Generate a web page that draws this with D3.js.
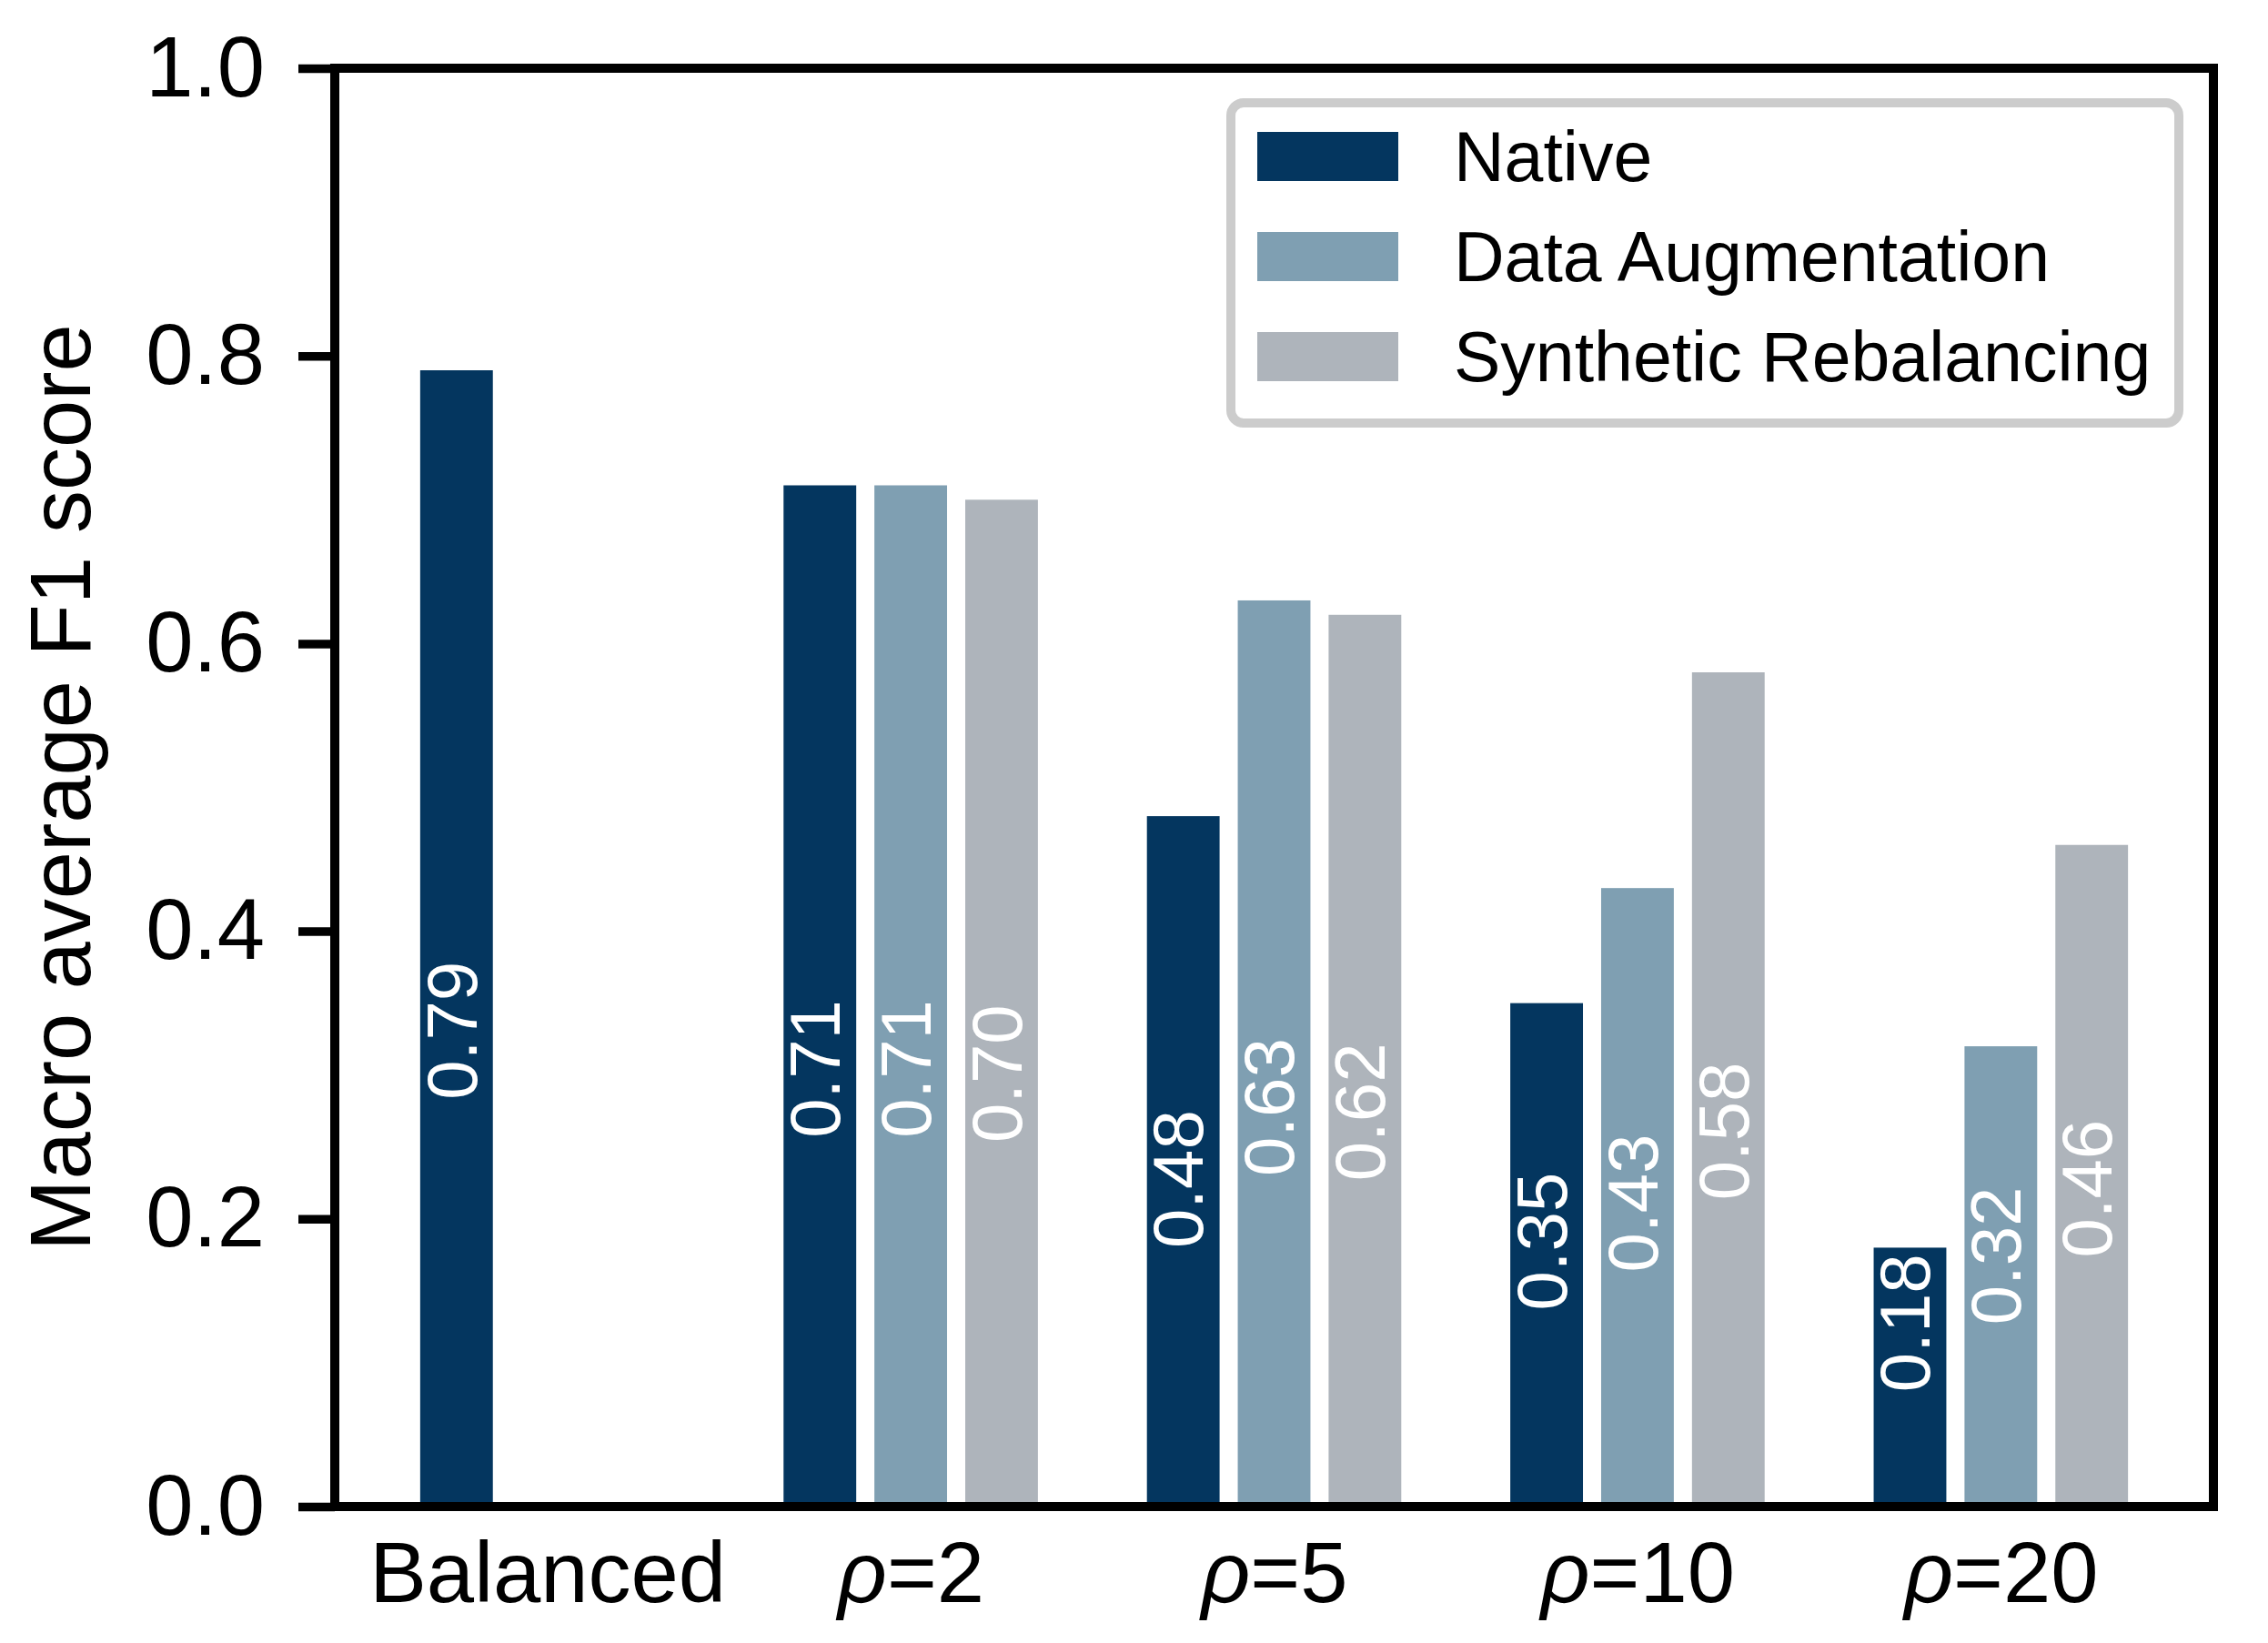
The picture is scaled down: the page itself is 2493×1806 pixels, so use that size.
<!DOCTYPE html>
<html>
<head>
<meta charset="utf-8">
<script src="https://cdn.jsdelivr.net/npm/d3@7"></script>
<style>
  body { margin: 0; background: #ffffff; }
  svg { display: block; font-family: "Liberation Sans", Arial, sans-serif; }
</style>
</head>
<body>
<svg id="chart"></svg>
<script>
// data
const categories = ["Balanced", "ρ=2", "ρ=5", "ρ=10", "ρ=20"];
const native = [0.79, 0.71, 0.48, 0.35, 0.18];
const augmentation = [null, 0.71, 0.63, 0.43, 0.32];
const synthetic = [null, 0.70, 0.62, 0.58, 0.46];
const seriesNames = ["Native", "Data Augmentation", "Synthetic Rebalancing"];
const yTicks = [0, 0.2, 0.4, 0.6, 0.8, 1.0];

const colors = ["#04365f", "#7f9fb2", "#aeb4bb"];

const W = 2493, H = 1806;
const margin = { top: 75, left: 368, right: W - 2433, bottom: H - 1656 };
const width = W - margin.left - margin.right;
const height = H - margin.top - margin.bottom;

const svg = d3.select("#chart").attr("width", W).attr("height", H);
const chart = svg.append("g").attr("transform", `translate(${margin.left},${margin.top})`);

// group positions 0..n-1, matplotlib-like margins
const xScale = d3.scaleLinear().domain([-0.585, categories.length - 1 + 0.585]).range([0, width]);
const yScale = d3.scaleLinear().domain([0, 1]).range([height, 0]);

const barStep = 0.25, barW = 0.2;
const series = [native, augmentation, synthetic];

series.forEach((vals, s) => {
  const off = (s - 1) * barStep;
  const pts = vals.map((v, i) => ({ i, v })).filter(d => d.v != null);

  chart.selectAll(`rect.s${s}`).data(pts).enter().append("rect")
      .attr("class", `s${s}`)
      .attr("x", d => xScale(d.i + off - barW / 2))
      .attr("width", xScale(barW) - xScale(0))
      .attr("y", d => yScale(d.v))
      .attr("height", d => yScale(0) - yScale(d.v))
      .attr("fill", colors[s]);

  // rotated value labels sitting at a third of the bar
  chart.selectAll(`text.lbl${s}`).data(pts).enter().append("text")
      .attr("class", `lbl${s}`)
      .attr("transform", d => `translate(${xScale(d.i + off)},${yScale(d.v / 3)}) rotate(-90)`)
      .attr("x", 31)
      .attr("dy", "0.28em")
      .attr("fill", "#ffffff")
      .style("font-size", "78px")
      .text(d => d.v.toFixed(2));
});

// y axis
const yAxis = d3.axisLeft(yScale).tickValues(yTicks).tickFormat(d3.format(".1f"))
    .tickSize(40).tickPadding(37);
const yAxisG = chart.append("g").call(yAxis);
yAxisG.select(".domain").remove();
yAxisG.selectAll("line").attr("stroke", "#000").attr("stroke-width", 9.5);
yAxisG.selectAll("text").attr("fill", "#000").style("font-size", "94px")
    .style("font-family", "'Liberation Sans', Arial, sans-serif");

// x axis, no tick marks
const xAxis = d3.axisBottom(xScale).tickValues(d3.range(categories.length))
    .tickFormat(i => categories[i]).tickSize(0).tickPadding(38);
const xAxisG = chart.append("g").attr("transform", `translate(0,${height})`).call(xAxis);
xAxisG.select(".domain").remove();
xAxisG.selectAll("text").attr("fill", "#000").style("font-size", "94px")
    .style("font-family", "'Liberation Sans', Arial, sans-serif")
    .each(function(i) {
      const t = d3.select(this);
      const lab = categories[i];
      if (lab.startsWith("ρ")) {
        t.text(null);
        t.append("tspan").style("font-style", "italic").text("ρ");
        t.append("tspan").text(lab.slice(1));
      }
    });

// frame
chart.append("rect")
    .attr("x", 0).attr("y", 0).attr("width", width).attr("height", height)
    .attr("fill", "none").attr("stroke", "#000").attr("stroke-width", 10);

// y label
svg.append("text")
    .attr("transform", `translate(99,${margin.top + height / 2}) rotate(-90)`)
    .attr("text-anchor", "middle")
    .style("font-size", "94px")
    .text("Macro average F1 score");

// legend
const legend = svg.append("g");
legend.append("rect")
    .attr("x", 1353).attr("y", 113).attr("width", 1042).attr("height", 352)
    .attr("rx", 14).attr("fill", "#fff").attr("stroke", "#cccccc").attr("stroke-width", 10);
seriesNames.forEach((name, s) => {
  const ly = 145 + s * 110;
  legend.append("rect").attr("x", 1382).attr("y", ly).attr("width", 155).attr("height", 54)
      .attr("fill", colors[s]);
  legend.append("text").attr("x", 1598).attr("y", ly + 54)
      .style("font-size", "77px").text(name);
});
</script>
</body>
</html>
